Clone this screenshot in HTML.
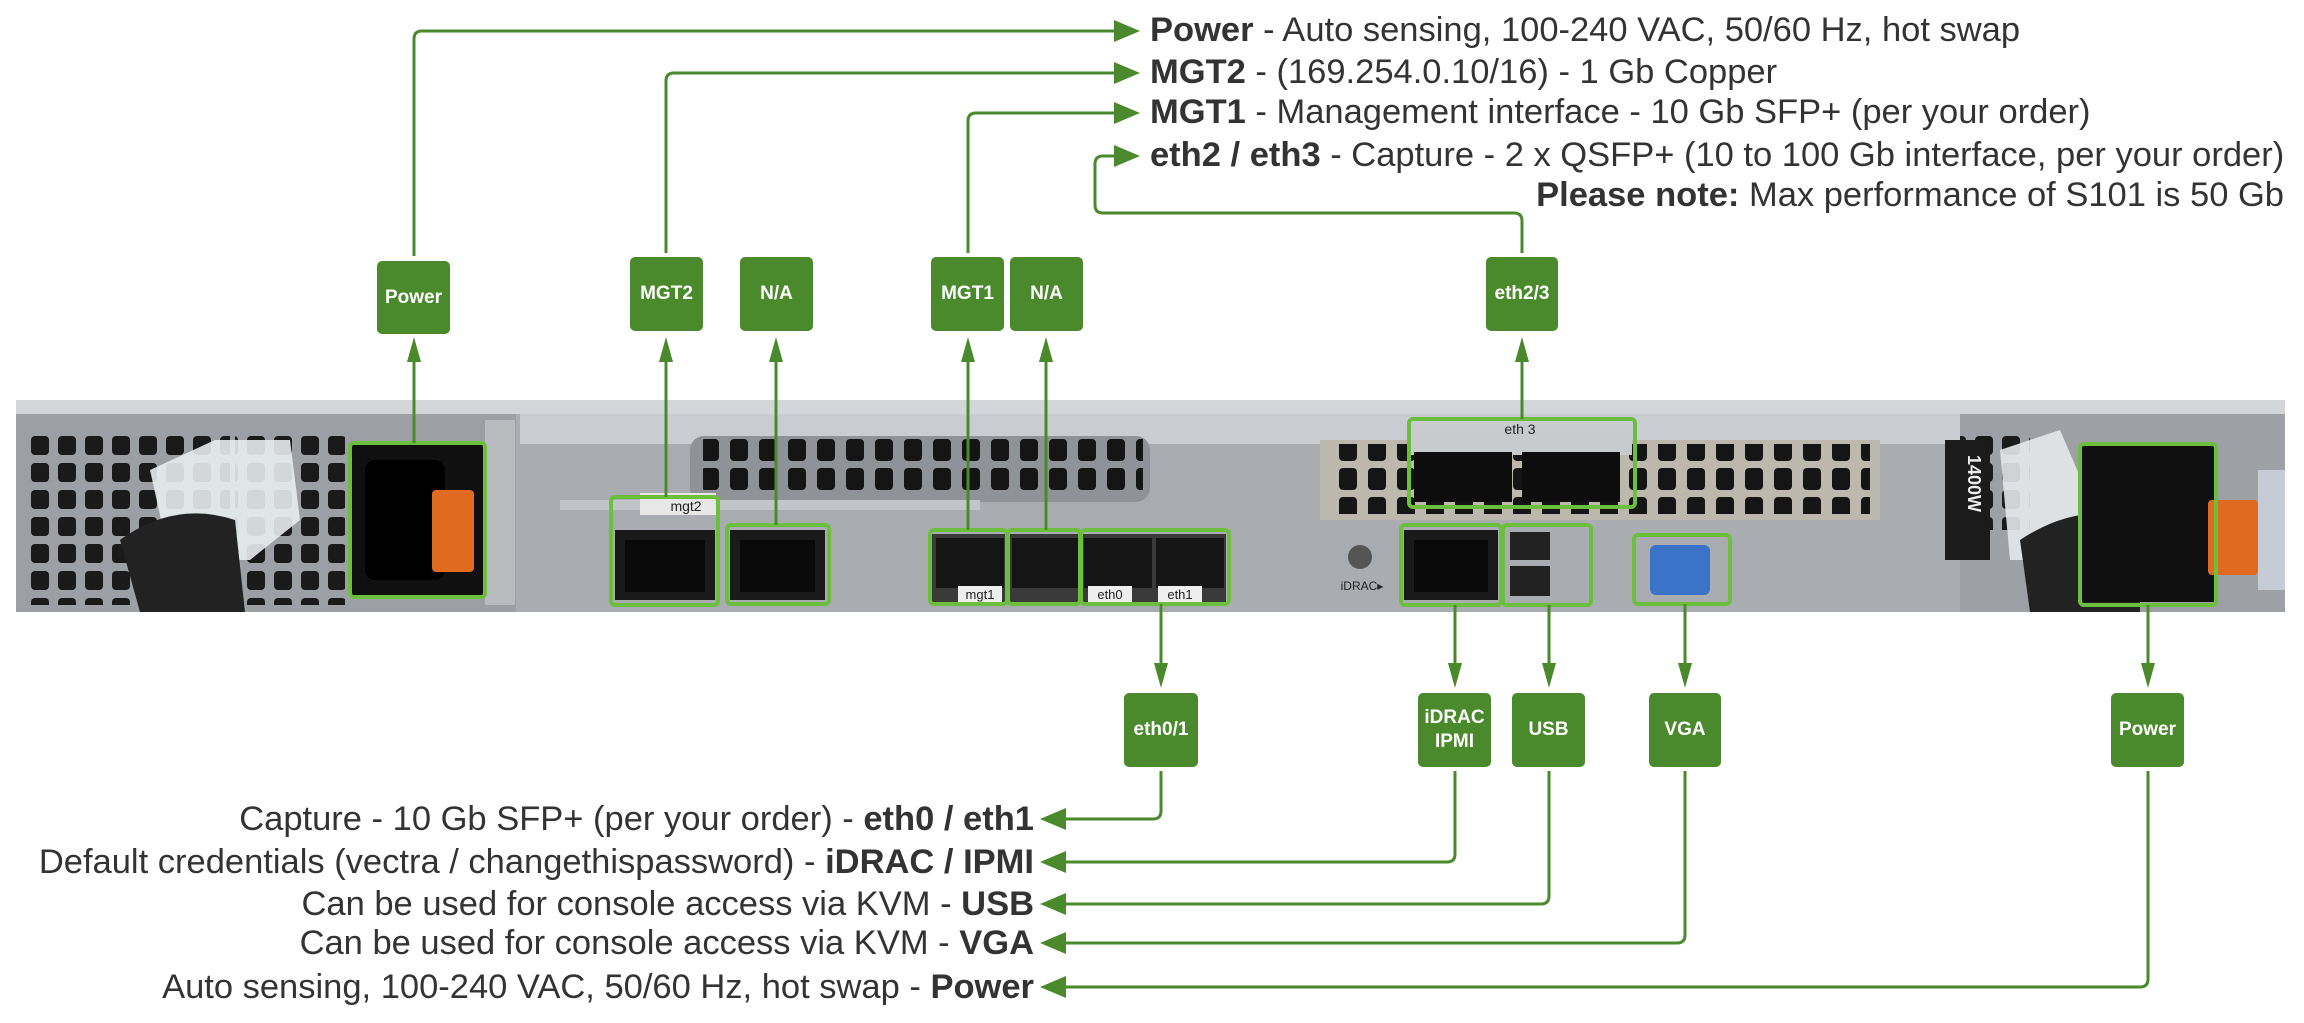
<!DOCTYPE html>
<html><head><meta charset="utf-8"><style>
html,body{margin:0;padding:0;background:#fff;}
body{width:2304px;height:1023px;overflow:hidden;position:relative;font-family:"Liberation Sans",sans-serif;}
.t{position:absolute;font-size:34.5px;color:#333;white-space:nowrap;line-height:36px;}
.r{text-align:right;}
.bx{position:absolute;background:#4a8a2c;border-radius:5px;color:#fff;font-weight:bold;font-size:19px;display:flex;align-items:center;justify-content:center;text-align:center;line-height:24px;}
svg{position:absolute;left:0;top:0;}
</style></head><body>
<svg width="2304" height="1023" viewBox="0 0 2304 1023">
<defs>
<pattern id="holes" x="0" y="0" width="29" height="29" patternUnits="userSpaceOnUse"><rect x="5" y="4" width="18" height="22" rx="4" fill="#151515"/></pattern>
<pattern id="holes2" x="0" y="0" width="27" height="27" patternUnits="userSpaceOnUse"><rect x="4" y="4" width="18" height="19" rx="4" fill="#1a1a1a"/></pattern>
</defs>
<rect x="16" y="400" width="2269" height="212" fill="#a9adb1"/>
<rect x="16" y="400" width="2269" height="14" fill="#d3d6d9"/>
<rect x="16" y="414" width="500" height="198" fill="#9c9fa3"/>
<rect x="30" y="430" width="200" height="175" fill="url(#holes2)"/>
<rect x="235" y="430" width="110" height="175" fill="url(#holes2)"/>
<path d="M150 470 L215 440 L290 440 L300 520 L250 560 L170 560 Z" fill="#e8ecef" opacity="0.9"/>
<path d="M120 540 Q175 500 235 520 L245 612 L140 612 Z" fill="#222"/>
<rect x="352" y="442" width="132" height="155" fill="#101010"/>
<rect x="365" y="460" width="80" height="120" rx="10" fill="#000"/>
<rect x="432" y="490" width="42" height="82" rx="4" fill="#e06a1f"/>
<rect x="485" y="420" width="30" height="185" fill="#b9bcbf"/>
<rect x="520" y="414" width="1440" height="30" fill="#c9ccd0"/>
<rect x="690" y="436" width="460" height="66" rx="14" fill="#8f9397"/>
<rect x="703" y="439" width="440" height="58" fill="url(#holes)"/>
<rect x="560" y="500" width="420" height="10" fill="#c2c5c8"/>
<rect x="1320" y="440" width="560" height="80" fill="#bdb8ae"/>
<rect x="1330" y="444" width="540" height="70" fill="url(#holes)"/>
<rect x="1410" y="425" width="222" height="30" fill="#c8cbce"/>
<text x="1520" y="434" font-size="14" fill="#222" font-family="Liberation Sans" text-anchor="middle">eth 3</text>
<rect x="1414" y="452" width="98" height="50" fill="#0d0d0d"/>
<rect x="1522" y="452" width="98" height="50" fill="#0d0d0d"/>
<rect x="640" y="493" width="76" height="22" fill="#e7e7e7"/>
<text x="686" y="511" font-size="14" fill="#222" font-family="Liberation Sans" text-anchor="middle">mgt2</text>
<rect x="615" y="530" width="100" height="70" fill="#1a1a1a"/><rect x="625" y="540" width="80" height="52" fill="#0a0a0a"/>
<rect x="730" y="530" width="95" height="70" fill="#1a1a1a"/><rect x="740" y="540" width="75" height="52" fill="#0a0a0a"/>
<rect x="932" y="534" width="294" height="68" fill="#3a3a3a"/>
<rect x="936" y="538" width="68" height="50" fill="#151515"/>
<rect x="1012" y="538" width="66" height="50" fill="#151515"/>
<rect x="1084" y="538" width="68" height="50" fill="#151515"/>
<rect x="1156" y="538" width="68" height="50" fill="#151515"/>
<rect x="958" y="586" width="44" height="16" fill="#eee"/><text x="980" y="599" font-size="13" fill="#222" font-family="Liberation Sans" text-anchor="middle">mgt1</text>
<rect x="1088" y="586" width="44" height="16" fill="#eee"/><text x="1110" y="599" font-size="13" fill="#222" font-family="Liberation Sans" text-anchor="middle">eth0</text>
<rect x="1158" y="586" width="44" height="16" fill="#eee"/><text x="1180" y="599" font-size="13" fill="#222" font-family="Liberation Sans" text-anchor="middle">eth1</text>
<circle cx="1360" cy="557" r="12" fill="#555"/>
<text x="1362" y="590" font-size="12" fill="#222" font-family="Liberation Sans" text-anchor="middle">iDRAC▸</text>
<rect x="1404" y="530" width="94" height="70" fill="#1a1a1a"/><rect x="1414" y="540" width="74" height="52" fill="#0a0a0a"/>
<rect x="1510" y="532" width="40" height="28" fill="#222"/><rect x="1510" y="566" width="40" height="30" fill="#222"/>
<rect x="1650" y="545" width="60" height="50" rx="6" fill="#3a73c8"/>
<rect x="1960" y="414" width="325" height="198" fill="#9da1a5"/>
<rect x="1960" y="430" width="70" height="100" fill="url(#holes2)"/>
<rect x="1945" y="440" width="45" height="120" fill="#1b1b1b"/>
<text x="1968" y="455" font-size="18" font-weight="bold" fill="#eee" font-family="Liberation Sans" transform="rotate(90 1968 455)">1400W</text>
<path d="M2000 450 L2060 430 L2090 500 L2060 560 L2010 560 Z" fill="#e4e8eb" opacity="0.9"/>
<path d="M2020 540 Q2080 500 2140 520 L2140 612 L2030 612 Z" fill="#222"/>
<rect x="2082" y="446" width="132" height="156" fill="#0f0f0f"/>
<rect x="2208" y="500" width="50" height="75" rx="4" fill="#e06a1f"/>
<rect x="2258" y="470" width="27" height="120" fill="#c5ccd6"/>
<g fill="none" stroke="#6cbf3c" stroke-width="4">
<rect x="350" y="443" width="135" height="154" rx="4"/>
<rect x="611" y="497" width="107" height="108" rx="4"/>
<rect x="727" y="525" width="102" height="79" rx="4"/>
<rect x="930" y="530" width="77" height="74" rx="4"/>
<rect x="1008" y="530" width="72" height="74" rx="4"/>
<rect x="1081" y="530" width="148" height="74" rx="4"/>
<rect x="1409" y="419" width="226" height="88" rx="4"/>
<rect x="1401" y="525" width="100" height="80" rx="4"/>
<rect x="1503" y="525" width="88" height="80" rx="4"/>
<rect x="1634" y="535" width="96" height="69" rx="4"/>
<rect x="2080" y="444" width="136" height="161" rx="4"/>
</g>
<g fill="none" stroke="#4a8a2c" stroke-width="3">
<path d="M414 256 V39 Q414 31 422 31 H1118"/>
<path d="M666 253 V81 Q666 73 674 73 H1118"/>
<path d="M968 253 V121 Q968 113 976 113 H1118"/>
<path d="M1522 253 V221 Q1522 213 1514 213 H1103 Q1095 213 1095 205 V164 Q1095 156 1103 156 H1118"/>
<path d="M414 443 V358"/><path d="M666 497 V358"/><path d="M776 525 V358"/><path d="M968 530 V358"/><path d="M1046 530 V358"/><path d="M1522 419 V358"/>
<path d="M1161 604 V666"/><path d="M1455 605 V666"/><path d="M1549 605 V666"/><path d="M1685 604 V666"/><path d="M2148 605 V666"/>
<path d="M1161 771 V811 Q1161 819 1153 819 H1062"/>
<path d="M1455 771 V854 Q1455 862 1447 862 H1062"/>
<path d="M1549 771 V896 Q1549 904 1541 904 H1062"/>
<path d="M1685 771 V935 Q1685 943 1677 943 H1062"/>
<path d="M2148 771 V979 Q2148 987 2140 987 H1062"/>
</g>
<g fill="#4a8a2c">
<path d="M1140 31 L1114 20 L1114 42 Z"/><path d="M1140 73 L1114 62 L1114 84 Z"/><path d="M1140 113 L1114 102 L1114 124 Z"/><path d="M1140 156 L1114 145 L1114 167 Z"/>
<path d="M1040 819 L1066 808 L1066 830 Z"/><path d="M1040 862 L1066 851 L1066 873 Z"/><path d="M1040 904 L1066 893 L1066 915 Z"/><path d="M1040 943 L1066 932 L1066 954 Z"/><path d="M1040 987 L1066 976 L1066 998 Z"/>
<path d="M414 337 L407 362 L421 362 Z"/><path d="M666 337 L659 362 L673 362 Z"/><path d="M776 337 L769 362 L783 362 Z"/><path d="M968 337 L961 362 L975 362 Z"/><path d="M1046 337 L1039 362 L1053 362 Z"/><path d="M1522 337 L1515 362 L1529 362 Z"/>
<path d="M1161 688 L1154 663 L1168 663 Z"/><path d="M1455 688 L1448 663 L1462 663 Z"/><path d="M1549 688 L1542 663 L1556 663 Z"/><path d="M1685 688 L1678 663 L1692 663 Z"/><path d="M2148 688 L2141 663 L2155 663 Z"/>
</g>
</svg>
<div class="bx" style="left:377px;top:261px;width:73px;height:73px;">Power</div>
<div class="bx" style="left:630px;top:257px;width:73px;height:74px;">MGT2</div>
<div class="bx" style="left:740px;top:257px;width:73px;height:74px;">N/A</div>
<div class="bx" style="left:931px;top:257px;width:73px;height:74px;">MGT1</div>
<div class="bx" style="left:1010px;top:257px;width:73px;height:74px;">N/A</div>
<div class="bx" style="left:1486px;top:257px;width:72px;height:74px;">eth2/3</div>
<div class="bx" style="left:1124px;top:693px;width:74px;height:74px;">eth0/1</div>
<div class="bx" style="left:1418px;top:693px;width:73px;height:74px;">iDRAC<br>IPMI</div>
<div class="bx" style="left:1512px;top:693px;width:73px;height:74px;">USB</div>
<div class="bx" style="left:1649px;top:693px;width:72px;height:74px;">VGA</div>
<div class="bx" style="left:2111px;top:693px;width:73px;height:74px;">Power</div>
<div class="t" style="left:1150px;top:12px;"><b>Power</b> - Auto sensing, 100-240 VAC, 50/60 Hz, hot swap</div>
<div class="t" style="left:1150px;top:54px;"><b>MGT2</b> - (169.254.0.10/16) - 1 Gb Copper</div>
<div class="t" style="left:1150px;top:94px;"><b>MGT1</b> - Management interface - 10 Gb SFP+ (per your order)</div>
<div class="t" style="left:1150px;top:137px;"><b>eth2 / eth3</b> - Capture - 2 x QSFP+ (10 to 100 Gb interface, per your order)</div>
<div class="t r" style="right:20px;top:177px;"><b>Please note:</b> Max performance of S101 is 50 Gb</div>
<div class="t r" style="right:1270px;top:801px;">Capture - 10 Gb SFP+ (per your order) - <b>eth0 / eth1</b></div>
<div class="t r" style="right:1270px;top:844px;">Default credentials (vectra / changethispassword) - <b>iDRAC / IPMI</b></div>
<div class="t r" style="right:1270px;top:886px;">Can be used for console access via KVM - <b>USB</b></div>
<div class="t r" style="right:1270px;top:925px;">Can be used for console access via KVM - <b>VGA</b></div>
<div class="t r" style="right:1270px;top:969px;">Auto sensing, 100-240 VAC, 50/60 Hz, hot swap - <b>Power</b></div>
</body></html>
